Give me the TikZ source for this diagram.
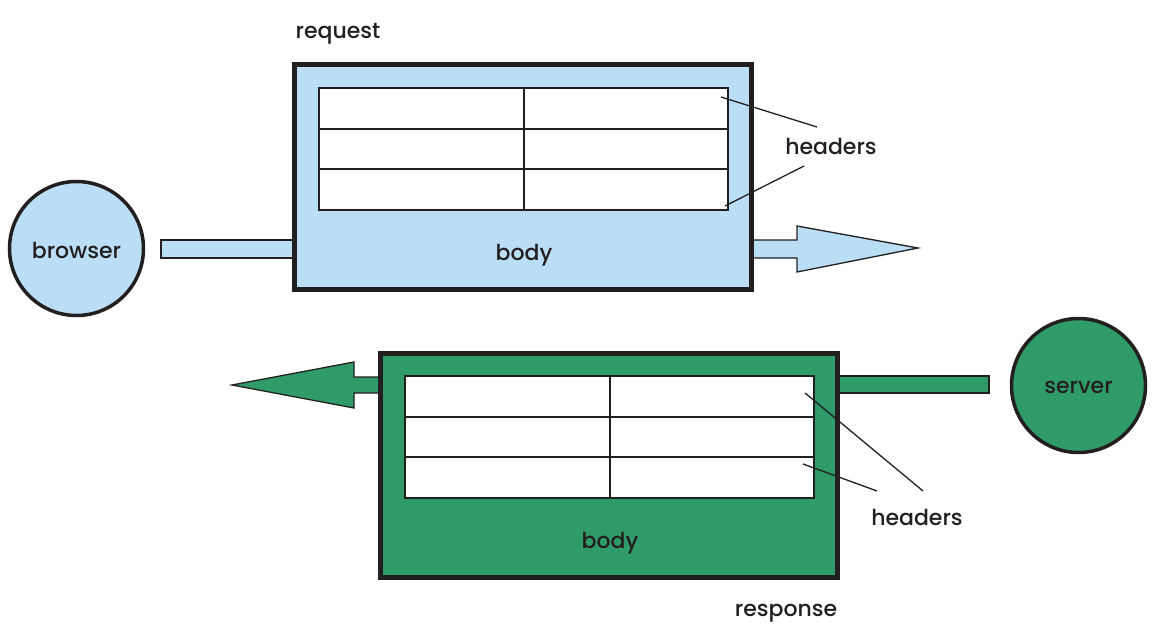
\documentclass[tikz,border=0pt]{standalone}
\usepackage{fontspec}
\setmainfont{Poppins}[UprightFont=* Medium]
\definecolor{lblue}{RGB}{185,222,245}
\definecolor{dgreen}{RGB}{46,155,104}
\definecolor{ink}{RGB}{35,31,32}
\begin{document}
\begin{tikzpicture}[x=1pt,y=-1pt,
  lbl/.style={font=\fontsize{22}{25}\selectfont, text=ink, inner sep=0pt},
  msgbox/.style={draw=ink, line width=5pt},
  hcell/.style={draw=ink, fill=white, line width=1.8pt},
  arrowshape/.style={draw=ink, line width=1.3pt, line join=miter},
  peer/.style={circle, draw=ink, line width=3.5pt, minimum size=134pt, inner sep=0pt},
  pointer/.style={draw=ink, line width=1.3pt}]
\useasboundingbox (0,0) rectangle (1154,634);
% request arrows
\draw[arrowshape, fill=lblue] (161,240) rectangle (296,258);
\draw[arrowshape, fill=lblue] (749,240) -- (797,240) -- (797,226) -- (918,248) -- (797,272) -- (797,258) -- (749,258);
% response arrows
\draw[arrowshape, fill=dgreen] (835,376) rectangle (989,393);
\draw[arrowshape, fill=dgreen] (382,377) -- (354,377) -- (354,362) -- (232,385) -- (354,408) -- (354,393) -- (382,393);
% peers
\node[peer, fill=lblue] (browser) at (76.5,248.5) {};
\node[lbl] at ([yshift=-2pt]browser.center) {browser};
\node[peer, fill=dgreen] (server) at (1078.5,385.5) {};
\node[lbl] at ([yshift=-2pt]server.center) {server};
% request box
\draw[msgbox, fill=lblue] (294.5,64.5) rectangle (751,289);
\draw[hcell] (319,88) rectangle (728,210);
\draw[hcell] (319,128.7) -- (728,128.7) (319,169.3) -- (728,169.3) (524,88) -- (524,210);
\node[lbl] (reqbody) at (524,255) {body};
\node[lbl] (reqlabel) at (338,34) {request};
\node[lbl] (reqhead) at (831,146) {headers};
\coordinate (rh1) at (721,97);
\coordinate (rh2) at (725,206);
\draw[pointer] (rh1) -- (817,127);
\draw[pointer] (rh2) -- (804,166);
% response box
\draw[msgbox, fill=dgreen] (380.5,353.5) rectangle (837,577);
\draw[hcell] (405,376) rectangle (814,498);
\draw[hcell] (405,416.7) -- (814,416.7) (405,457.3) -- (814,457.3) (610,376) -- (610,498);
\node[lbl] (resbody) at (610,543) {body};
\node[lbl] (reslabel) at (786,613) {response};
\node[lbl] (reshead) at (917,517) {headers};
\coordinate (sh1) at (805,393);
\coordinate (sh2) at (803,464);
\draw[pointer] (sh1) -- (923,491);
\draw[pointer] (sh2) -- (877,491);
\end{tikzpicture}
\end{document}
